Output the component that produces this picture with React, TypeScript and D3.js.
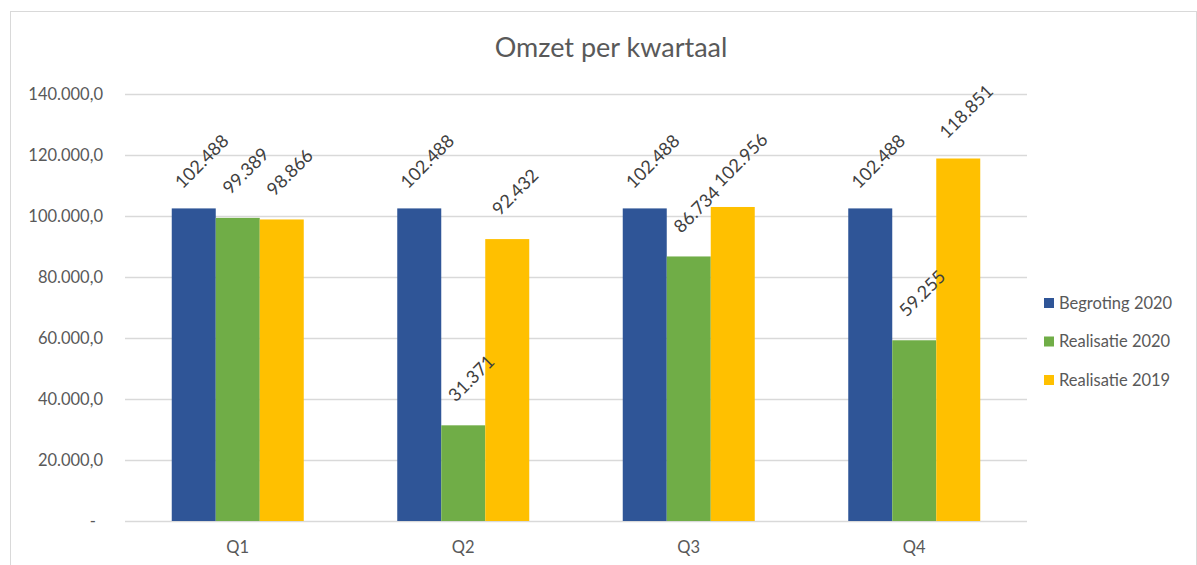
import React from "react";
import * as d3 from "d3";

const WIDTH = 1197;
const HEIGHT = 565;

const quarters = ["Q1", "Q2", "Q3", "Q4"];
const seriesNames = ["Begroting 2020", "Realisatie 2020", "Realisatie 2019"];
const begroting2020 = [102488, 102488, 102488, 102488];
const realisatie2020 = [99389, 31371, 86734, 59255];
const realisatie2019 = [98866, 92432, 102956, 118851];
const yTicks = [0, 20000, 40000, 60000, 80000, 100000, 120000, 140000];

const colors = ["#2F5597", "#70AD47", "#FFC000"];
const FONT = "Lato, 'Open Sans', sans-serif";

const nl = d3.formatLocale({
  decimal: ",",
  thousands: ".",
  grouping: [3],
  currency: ["€", ""],
});
const tickFmt = nl.format(",.1f");
const labelFmt = nl.format(",d");

const App = () => {
  const values = [begroting2020, realisatie2020, realisatie2019];

  const x = d3.scaleBand().domain(quarters).range([125, 1027]).padding(0);
  const inner = d3
    .scaleBand()
    .domain(seriesNames)
    .range([0, 132])
    .padding(0);
  const groupOffset = (x.bandwidth() - 132) / 2;
  const y = d3.scaleLinear().domain([0, 140000]).range([521, 94]);

  return (
    <svg
      width={WIDTH}
      height={HEIGHT}
      style={{ position: "absolute", left: 0, top: 0, background: "#fff" }}
      fontFamily={FONT}
    >
      <rect x={10.5} y={11.5} width={1186} height={570} fill="#fff" stroke="#d9d9d9" />
      <text x={611} y={57} textAnchor="middle" fontSize={27} fill="#595959">
        Omzet per kwartaal
      </text>

      {/* grid + y axis */}
      {yTicks.map((t) => (
        <g key={t}>
          <line
            x1={125}
            x2={1027}
            y1={Math.round(y(t)) + 0.5}
            y2={Math.round(y(t)) + 0.5}
            stroke="#d9d9d9"
            strokeWidth={1.5}
          />
          <text
            x={t === 0 ? 96 : 103}
            y={y(t)}
            dy="0.35em"
            textAnchor="end"
            fontSize={16.5}
            fill="#595959"
          >
            {t === 0 ? "-" : tickFmt(t)}
          </text>
        </g>
      ))}

      {/* bars */}
      {seriesNames.map((s, si) =>
        quarters.map((q, qi) => {
          const v = values[si][qi];
          const bx = (x(q) as number) + groupOffset + (inner(s) as number);
          return (
            <rect
              key={s + q}
              x={bx}
              y={y(v)}
              width={inner.bandwidth()}
              height={y(0) - y(v)}
              fill={colors[si]}
            />
          );
        })
      )}

      {/* data labels, rotated -45deg above each bar */}
      {seriesNames.map((s, si) =>
        quarters.map((q, qi) => {
          const v = values[si][qi];
          const cx =
            (x(q) as number) + groupOffset + (inner(s) as number) + inner.bandwidth() / 2 + 8;
          const cy = y(v) - 47;
          return (
            <text
              key={"l" + s + q}
              transform={`translate(${cx},${cy}) rotate(-45)`}
              textAnchor="middle"
              dy="0.35em"
              fontSize={18}
              fill="#404040"
            >
              {labelFmt(v)}
            </text>
          );
        })
      )}

      {/* x labels */}
      {quarters.map((q) => (
        <text
          key={q}
          x={(x(q) as number) + x.bandwidth() / 2}
          y={547}
          dy="0.35em"
          textAnchor="middle"
          fontSize={16.5}
          fill="#595959"
        >
          {q}
        </text>
      ))}

      {/* legend */}
      {seriesNames.map((s, i) => (
        <g key={s} transform={`translate(1044,${303 + i * 38.5})`}>
          <rect x={0} y={-5} width={10} height={10} fill={colors[i]} />
          <text x={15} y={0} dy="0.35em" fontSize={16.5} fill="#595959">
            {s}
          </text>
        </g>
      ))}
    </svg>
  );
};

export default App;
